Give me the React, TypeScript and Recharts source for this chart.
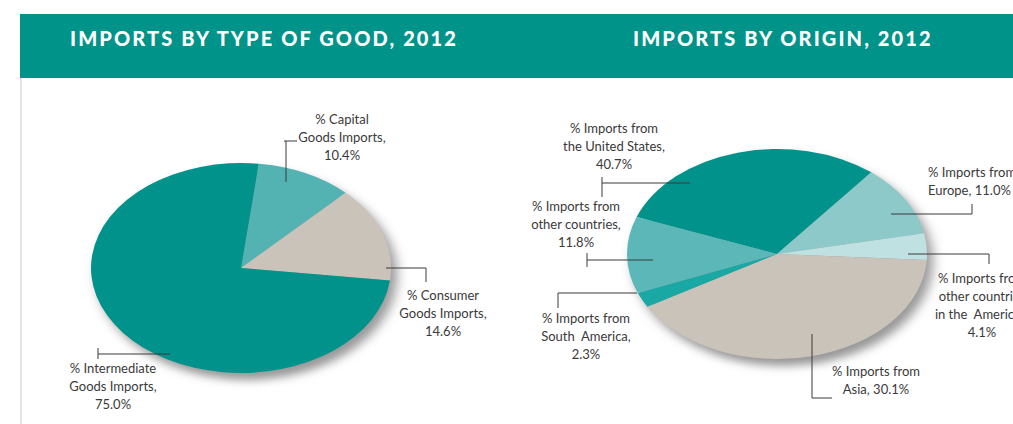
import React from 'react';
import { PieChart, Pie, Cell } from 'recharts';

// ---------- DATA ----------
const goodsCategories = ['Capital Goods', 'Consumer Goods', 'Intermediate Goods'];
const goodsValues = [10.4, 14.6, 75.0];
const goodsLabels = [
  ['% Capital', 'Goods Imports,', '10.4%'],
  ['% Consumer', 'Goods Imports,', '14.6%'],
  ['% Intermediate', 'Goods Imports,', '75.0%'],
];

const originCategories = ['United States', 'Europe', 'Other countries in the Americas', 'Asia', 'South America', 'Other countries'];
// slice sizes as drawn in the picture
const originValues = [30.1, 11.0, 4.1, 40.7, 2.3, 11.8];
const originLabels = [
  ['% Imports from', 'the United States,', '40.7%'],
  ['% Imports from', 'Europe, 11.0%'],
  ['% Imports from', 'other countries', 'in the  Americas,', '4.1%'],
  ['% Imports from', 'Asia, 30.1%'],
  ['% Imports from', 'South  America,', '2.3%'],
  ['% Imports from', 'other countries,', '11.8%'],
];

const titles = ['IMPORTS BY TYPE OF GOOD, 2012', 'IMPORTS BY ORIGIN, 2012'];

// ---------- STYLE ----------
const TEAL = '#00938a';
const goodsColors = ['#53b3b3', '#c9c3ba', '#00928b'];
const originColors = ['#00928b', '#8dc9c9', '#c0e1e2', '#c9c3ba', '#1aa8a5', '#5cb8b8'];
const K = 0.7; // vertical squash of the tilted pies
const R = 150;
const W = 1013;
const H = 424;

type Layout = { segs: number[][]; tx: number; ty: number; anchor?: 'start' | 'middle' | 'end' };

const goodsLayout: Layout[] = [
  { segs: [[45, -86, 45, -127], [43, -127, 56, -127]], tx: 101, ty: -144 },
  { segs: [[145, 0, 185, 0], [185, 0, 185, 14]], tx: 202, ty: 32 },
  { segs: [[-71, 86, -143, 86], [-143, 80, -143, 91]], tx: -128, ty: 105 },
];

const originLayout: Layout[] = [
  { segs: [[-87, -71, -175, -71], [-175, -77, -175, -57]], tx: -163, ty: -121 },
  { segs: [[114, -40, 195, -40], [195, -40, 195, -50]], tx: 151, ty: -77, anchor: 'start' },
  { segs: [[131, 0, 212, 0], [212, 0, 212, 10]], tx: 205, ty: 29 },
  { segs: [[35, 80, 35, 144], [35, 144, 55, 144]], tx: 99, ty: 122 },
  { segs: [[-140, 39, -219, 39], [-219, 39, -219, 54]], tx: -191, ty: 69 },
  { segs: [[-124, 6, -190, 6], [-190, -1, -190, 13]], tx: -201, ty: -43 },
];

const LABEL_FONT = 'Lato, "Noto Sans", sans-serif';

function makeLabel(texts: string[][], layout: Layout[]) {
  return (props: any) => {
    const { cx, cy, index } = props;
    const l = layout[index];
    const lines = texts[index];
    return (
      <g key={`lbl-${index}`}>
        {l.segs.map((s, i) => (
          <line key={i} x1={cx + s[0]} y1={cy + s[1]} x2={cx + s[2]} y2={cy + s[3]} stroke="#3a3a3a" strokeWidth={1} />
        ))}
        <text
          x={cx + l.tx}
          y={cy + l.ty}
          textAnchor={l.anchor ?? 'middle'}
          fill="#3a3a3a"
          fontSize={13}
          fontFamily={LABEL_FONT}
          style={{ whiteSpace: 'pre' }}
        >
          {lines.map((t, i) => (
            <tspan key={i} x={cx + l.tx} dy={i === 0 ? 0 : 18}>
              {t}
            </tspan>
          ))}
        </text>
      </g>
    );
  };
}

const goodsData = goodsCategories.map((name, i) => ({ name, value: goodsValues[i] }));
const originData = originCategories.map((name, i) => ({ name, value: originValues[i] }));

const LCX = 241, LCY = 268;
const RCX = 777, RCY = 254;
const L_START = 83.2;
const R_START = 159.4;

export default function App() {
  return (
    <div style={{ position: 'absolute', left: 0, top: 0, width: W, height: H, background: '#fff', overflow: 'hidden' }}>
      <div style={{ position: 'absolute', left: 20, top: 14, width: 993, height: 64, background: TEAL }} />
      <div style={{ position: 'absolute', left: 20, top: 78, width: 2, height: 346, background: '#e4e4e4' }} />
      {titles.map((t, i) => (
        <div
          key={t}
          style={{
            position: 'absolute',
            left: i === 0 ? 70 : 633,
            top: 26,
            color: '#fff',
            fontFamily: 'Lato, sans-serif',
            fontWeight: 900,
            fontSize: 20,
            letterSpacing: 2.1,
            lineHeight: '24px',
            whiteSpace: 'nowrap',
          }}
        >
          {t}
        </div>
      ))}
      {/* squashed pie layer (tilted look) */}
      <div
        style={{
          position: 'absolute',
          left: 0,
          top: 0,
          width: W,
          height: H / K,
          transform: `scaleY(${K})`,
          transformOrigin: '0 0',
          filter: 'drop-shadow(6px 10px 6px rgba(50,50,50,0.5))',
        }}
      >
        <PieChart width={W} height={H / K} margin={{ top: 0, right: 0, bottom: 0, left: 0 }}>
          <Pie
            data={goodsData}
            dataKey="value"
            cx={LCX}
            cy={LCY / K}
            outerRadius={R}
            innerRadius={0}
            startAngle={L_START}
            endAngle={L_START - 360}
            stroke="none"
            isAnimationActive={false}
            labelLine={false}
          >
            {goodsData.map((d, i) => (
              <Cell key={d.name} fill={goodsColors[i]} stroke="none" />
            ))}
          </Pie>
          <Pie
            data={originData}
            dataKey="value"
            cx={RCX}
            cy={RCY / K}
            outerRadius={R}
            innerRadius={0}
            startAngle={R_START}
            endAngle={R_START - 360}
            stroke="none"
            isAnimationActive={false}
            labelLine={false}
          >
            {originData.map((d, i) => (
              <Cell key={d.name} fill={originColors[i]} stroke="none" />
            ))}
          </Pie>
        </PieChart>
      </div>
      {/* label layer (unsquashed) */}
      <div style={{ position: 'absolute', left: 0, top: 0 }}>
        <PieChart width={W} height={H} margin={{ top: 0, right: 0, bottom: 0, left: 0 }}>
          <Pie
            data={goodsData}
            dataKey="value"
            cx={LCX}
            cy={LCY}
            outerRadius={R}
            startAngle={L_START}
            endAngle={L_START - 360}
            fill="none"
            stroke="none"
            isAnimationActive={false}
            labelLine={false}
            label={makeLabel(goodsLabels, goodsLayout)}
          >
            {goodsData.map((d) => (
              <Cell key={d.name} fill="none" stroke="none" />
            ))}
          </Pie>
          <Pie
            data={originData}
            dataKey="value"
            cx={RCX}
            cy={RCY}
            outerRadius={R}
            startAngle={R_START}
            endAngle={R_START - 360}
            fill="none"
            stroke="none"
            isAnimationActive={false}
            labelLine={false}
            label={makeLabel(originLabels, originLayout)}
          >
            {originData.map((d) => (
              <Cell key={d.name} fill="none" stroke="none" />
            ))}
          </Pie>
        </PieChart>
      </div>
    </div>
  );
}
